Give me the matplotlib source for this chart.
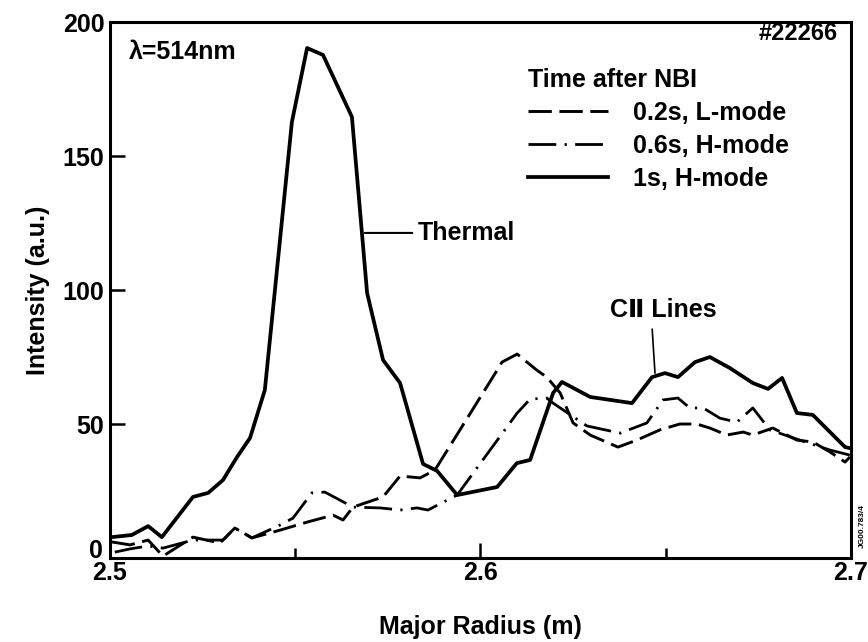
import matplotlib
matplotlib.use("Agg")
import matplotlib.pyplot as plt
from matplotlib.ticker import FixedLocator

plt.rcParams['font.family'] = ['Liberation Sans', 'DejaVu Sans']
plt.rcParams['font.weight'] = 'bold'
plt.rcParams['axes.labelweight'] = 'bold'

# 0.2 s after NBI, L-mode
r_02 = [2.5005, 2.5054, 2.5103, 2.5143, 2.5224, 2.5297, 2.5337, 2.5383, 2.5459, 2.5532,
        2.5602, 2.5629, 2.5656, 2.5737, 2.5783, 2.5837, 2.5877, 2.6045, 2.6058, 2.6099,
        2.6152, 2.6179, 2.6215, 2.6250, 2.6296, 2.6371, 2.6422, 2.6484, 2.6538, 2.6584,
        2.6619, 2.6665, 2.6709, 2.6735, 2.6789, 2.6854, 2.6897, 2.6943, 2.6984, 2.6997]
i_02 = [6.0, 4.9, 6.7, 0.7, 7.8, 5.6, 11.2, 7.5, 10.4, 13.4,
        16.0, 14.2, 19.0, 22.8, 30.6, 29.9, 32.8, 70.1, 73.1, 76.1,
        70.1, 67.5, 61.6, 50.4, 45.9, 41.4, 44.0, 47.8, 50.0, 50.0,
        48.5, 45.9, 47.0, 45.9, 48.5, 44.0, 43.3, 39.6, 35.8, 37.7]

# 0.6 s after NBI, H-mode
r_06 = [2.5013, 2.5054, 2.5103, 2.5143, 2.5224, 2.5305, 2.5337, 2.5383, 2.5459, 2.5494,
        2.5545, 2.5580, 2.5656, 2.5729, 2.5783, 2.5829, 2.5858, 2.5937, 2.6099, 2.6134,
        2.6179, 2.6196, 2.6287, 2.6377, 2.6449, 2.6493, 2.6533, 2.6565, 2.6601, 2.6646,
        2.6692, 2.6735, 2.6781, 2.6862, 2.6943, 2.6997]
i_06 = [2.2, 3.4, 4.5, 3.7, 6.7, 6.7, 11.2, 7.5, 12.3, 14.9,
        24.3, 24.6, 19.0, 18.7, 17.9, 18.7, 17.9, 23.5, 54.1, 59.3,
        59.7, 57.8, 49.3, 46.6, 50.4, 59.0, 59.7, 56.0, 56.0, 52.2,
        50.7, 56.0, 47.8, 44.0, 40.3, 38.4]

# 1 s after NBI, H-mode
r_1 = [2.5005, 2.5059, 2.5103, 2.5140, 2.5224, 2.5265, 2.5305, 2.5343, 2.5378, 2.5418,
       2.5491, 2.5532, 2.5575, 2.5653, 2.5694, 2.5737, 2.5783, 2.5845, 2.5883, 2.5937,
       2.6045, 2.6098, 2.6134, 2.6196, 2.6220, 2.6296, 2.6409, 2.6463, 2.6498, 2.6533,
       2.6579, 2.6619, 2.6673, 2.6735, 2.6776, 2.6814, 2.6854, 2.6897, 2.6984, 2.6997]
i_1 = [7.8, 8.6, 11.9, 7.8, 22.8, 24.3, 29.1, 37.7, 44.8, 62.7,
       162.7, 190.3, 187.7, 164.6, 98.9, 73.9, 65.3, 35.1, 32.5, 23.5,
       26.5, 35.4, 36.6, 61.6, 65.7, 60.1, 57.8, 67.5, 69.0, 67.5,
       73.1, 75.0, 70.9, 65.3, 63.1, 67.2, 54.1, 53.4, 41.4, 41.0]

labels = ['0.2s, L-mode', '0.6s, H-mode', '1s, H-mode']
x_ticks = [2.5, 2.6, 2.7]
x_ticklabels = ['2.5', '2.6', '2.7']
y_ticks = [0, 50, 100, 150, 200]
y_ticklabels = ['', '50', '100', '150', '200']

fig = plt.figure(figsize=(8.68, 6.42), dpi=100)
ax = fig.add_axes([0.1267, 0.1308, 0.8537, 0.8349])

ax.plot(r_02, i_02, color='black', lw=2.1, dashes=(8, 2.6), label=labels[0])
ax.plot(r_06, i_06, color='black', lw=2.0, dashes=(10, 3, 0.8, 3), label=labels[1])
ax.plot(r_1, i_1, color='black', lw=2.7, label=labels[2])

ax.set_xlim(2.5, 2.7)
ax.set_ylim(0, 200)
ax.xaxis.set_major_locator(FixedLocator(x_ticks))
ax.set_xticklabels(x_ticklabels)
ax.xaxis.set_minor_locator(FixedLocator([2.55, 2.65]))
ax.yaxis.set_major_locator(FixedLocator(y_ticks))
ax.set_yticklabels(y_ticklabels)

for s in ax.spines.values():
    s.set_linewidth(2.2)
ax.tick_params(axis='both', which='major', direction='in', length=11, width=1.8,
               labelsize=18, top=False, right=False)
ax.tick_params(axis='x', which='major', pad=2)
ax.tick_params(axis='y', which='major', pad=4)
ax.tick_params(axis='x', which='minor', direction='in', length=7, width=1.8)

# the "0" sits a little above the axis line in the original
ax.annotate('0', xy=(0, 0), xycoords='axes fraction', xytext=(-5, 5),
            textcoords='offset points', fontsize=18, ha='right', va='center')

ax.set_xlabel('Major Radius (m)', fontsize=18, labelpad=22)
ax.set_ylabel('Intensity (a.u.)', fontsize=18, labelpad=9)

ax.text(0.026, 0.944, 'λ=514nm', transform=ax.transAxes, fontsize=18,
        ha='left', va='center')
ax.text(0.9825, 0.979, '#22266', transform=ax.transAxes, fontsize=17,
        ha='right', va='center')

ax.annotate('Thermal', xy=(2.5688, 121.3), xytext=(2.5831, 121.3),
            fontsize=18, va='center', ha='left',
            arrowprops=dict(arrowstyle='-', color='black', lw=1.5,
                            shrinkA=2, shrinkB=0))
ax.annotate('CⅡ Lines', xy=(2.6471, 69.0), xytext=(2.635, 88.0),
            fontsize=18, va='bottom', ha='left',
            arrowprops=dict(arrowstyle='-', color='black', lw=1.2,
                            relpos=(0.39, 0.0), shrinkA=3, shrinkB=0))

leg = ax.legend(loc='upper left', bbox_to_anchor=(0.564, 0.915), frameon=False,
                title='Time after NBI', fontsize=18, title_fontsize=18,
                handlelength=3.2, handletextpad=1.0, labelspacing=0.36,
                borderpad=0, borderaxespad=0, alignment='left')
leg.get_title().set_fontweight('bold')

fig.text(0.993, 0.18, 'JG00.783/4', rotation=90, fontsize=6, ha='center', va='center')

fig.savefig('out.png', dpi=100)
